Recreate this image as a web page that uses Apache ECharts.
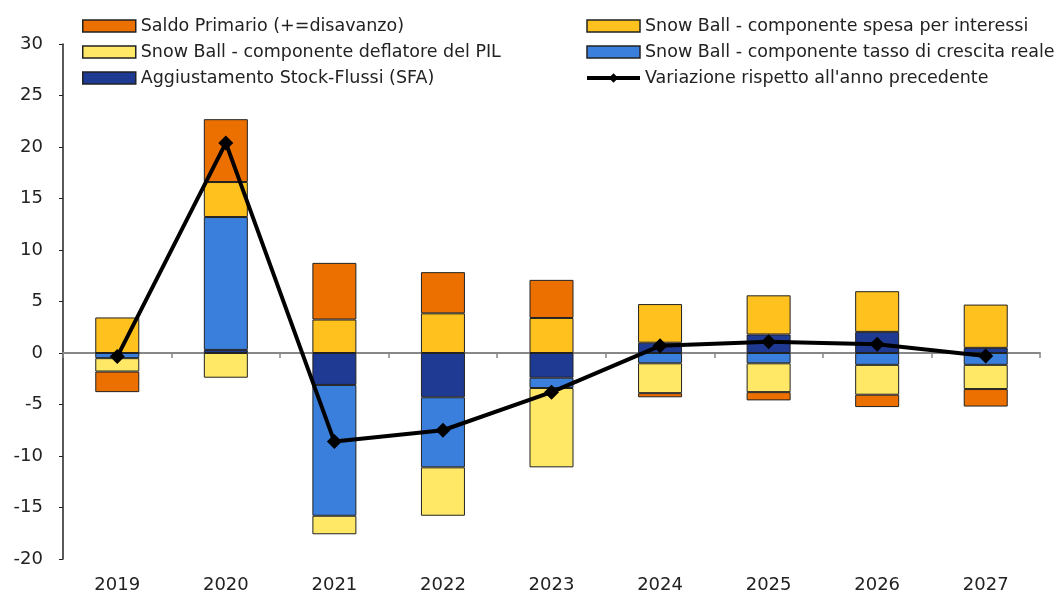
<!DOCTYPE html>
<html><head><meta charset="utf-8">
<script src="https://cdn.jsdelivr.net/npm/echarts@6/dist/echarts.min.js"></script>
<style>html,body{margin:0;padding:0;background:#fff}#c{width:1058px;height:594px}</style>
</head><body><div id="c"></div>
<script>
const years = ['2019', '2020', '2021', '2022', '2023', '2024', '2025', '2026', '2027'];
const saldoPrimario = [-2.0, 6.1, 5.5, 4.0, 3.7, -0.4, -0.8, -1.2, -1.7];
const spesaInteressi = [3.45, 3.4, 3.25, 3.85, 3.4, 3.75, 3.8, 3.95, 4.2];
const deflatorePIL = [-1.3, -2.4, -1.8, -4.7, -7.7, -2.9, -2.8, -2.9, -2.35];
const crescitaReale = [-0.5, 12.9, -12.7, -6.8, -1.0, -1.0, -1.0, -1.15, -1.15];
const stockFlussi = [0, 0.3, -3.1, -4.3, -2.4, 1.0, 1.8, 2.05, 0.5];
const variazione = [-0.35, 20.4, -8.6, -7.5, -3.8, 0.7, 1.1, 0.85, -0.3];
const yTicks = { min: -20, max: 30, interval: 5 };

const names = {
  primario: 'Saldo Primario (+=disavanzo)',
  interessi: 'Snow Ball - componente spesa per interessi',
  deflatore: 'Snow Ball - componente deflatore del PIL',
  crescita: 'Snow Ball - componente tasso di crescita reale',
  sfa: 'Aggiustamento Stock-Flussi (SFA)',
  variazione: 'Variazione rispetto all\'anno precedente'
};
const font = 'DejaVu Sans';
const border = { borderColor: '#222', borderWidth: 1 };
function bar(name, data, color) {
  return { name, type: 'bar', stack: 'tot', data, barWidth: 44, xAxisIndex: 0,
    itemStyle: Object.assign({ color }, border), z: 2 };
}
const legendText = { fontFamily: font, fontSize: 17.5, color: '#222', lineHeight: 18 };
const iconStyle = { borderColor: '#222', borderWidth: 1.5 };
const chart = echarts.init(document.getElementById('c'));
chart.setOption({
  animation: false,
  textStyle: { fontFamily: font },
  legend: [
    { orient: 'vertical', left: 77, top: 12, itemWidth: 53, itemHeight: 12, itemGap: 8,
      icon: 'rect', textStyle: legendText, itemStyle: iconStyle,
      data: [names.primario, names.deflatore, names.sfa] },
    { orient: 'vertical', left: 580, top: 12, itemWidth: 53, itemHeight: 12, itemGap: 8,
      textStyle: legendText,
      data: [
        { name: names.interessi, icon: 'rect', itemStyle: iconStyle },
        { name: names.crescita, icon: 'rect', itemStyle: iconStyle },
        { name: names.variazione, lineStyle: { width: 4, color: '#000' }, itemStyle: { color: '#000' } }
      ] }
  ],
  grid: { left: 63, right: 18, top: 44, bottom: 34, containLabel: false },
  xAxis: [
    { type: 'category', data: years, position: 'bottom',
      axisLine: { show: false, onZero: false }, axisTick: { show: false },
      axisLabel: { fontSize: 18, color: '#222', margin: 17, fontFamily: font } },
    { type: 'category', data: years, position: 'top',
      axisLine: { show: true, onZero: true, lineStyle: { color: '#888', width: 2 } },
      axisTick: { show: true, inside: true, length: 5, lineStyle: { color: '#888', width: 1.5 } },
      axisLabel: { show: false } }
  ],
  yAxis: {
    type: 'value', min: yTicks.min, max: yTicks.max, interval: yTicks.interval,
    axisLine: { show: true, lineStyle: { color: '#222', width: 1.5 } },
    axisTick: { show: true, length: 4, lineStyle: { color: '#222' } },
    splitLine: { show: false },
    axisLabel: { fontSize: 18, color: '#222', margin: 20, fontFamily: font }
  },
  series: [
    bar(names.sfa, stockFlussi, '#1F3A93'),
    bar(names.crescita, crescitaReale, '#3A7FDC'),
    bar(names.deflatore, deflatorePIL, '#FFE865'),
    bar(names.interessi, spesaInteressi, '#FFC11E'),
    bar(names.primario, saldoPrimario, '#EC7000'),
    { name: names.variazione, type: 'line', data: variazione, xAxisIndex: 0, z: 5,
      symbol: 'diamond', symbolSize: 15, color: '#000',
      lineStyle: { color: '#000', width: 4 }, itemStyle: { color: '#000' } }
  ]
});
</script></body></html>
